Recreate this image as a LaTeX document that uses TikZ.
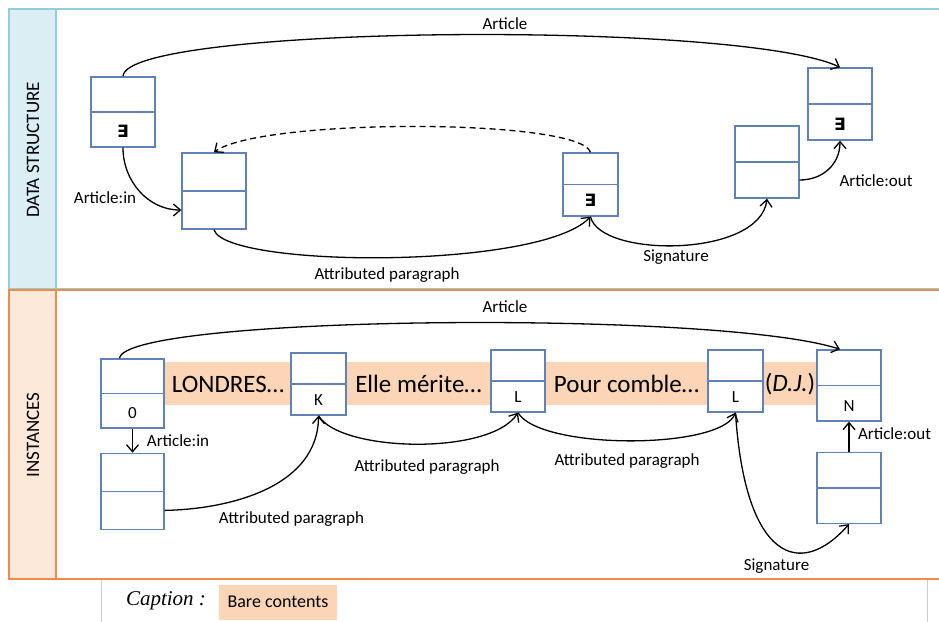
\documentclass[tikz,border=0pt]{standalone}
\usepackage{fontspec}
\setmainfont{Carlito}
\newfontfamily\capfont{Liberation Serif}
\newfontfamily\exfont{DejaVu Sans}
\newcommand*{\thereis}{{\exfont\bfseries ∃}}
\usetikzlibrary{arrows.meta}
\usetikzlibrary{positioning}
\definecolor{cellblue}{RGB}{96,130,184}
\definecolor{lanesky}{RGB}{146,205,221}
\definecolor{skyhead}{RGB}{219,238,244}
\definecolor{laneorange}{RGB}{240,140,70}
\definecolor{orangehead}{RGB}{253,233,217}
\definecolor{bare}{RGB}{251,213,181}
\definecolor{capgrey}{RGB}{205,205,205}
\tikzset{
    cell/.style = {draw=cellblue,line width=1.4pt,fill=white,inner sep=0,
        minimum width=64pt,minimum height=72pt,
        path picture={\draw[cellblue,line width=1.4pt] (path picture bounding box.west) -- (path picture bounding box.east);}},
    narrowcell/.style = {cell,minimum width=55pt,minimum height=62pt},
    low/.style = {label={[anchor=center,label distance=-16pt,font=\fontsize{17}{20}\selectfont]below:#1}},
    rel/.style = {line width=1.3pt,-{Straight Barb[length=7pt,width=12pt]}},
    ref/.style = {rel,dash pattern=on 6pt off 4pt},
    lbl/.style = {font=\fontsize{17}{20}\selectfont,inner sep=0},
    lanelbl/.style = {font=\fontsize{19}{22}\selectfont,inner sep=0,rotate=90},
    content/.style = {font=\fontsize{25}{30}\selectfont,inner sep=0}
}
\begin{document}
\begin{tikzpicture}[x=1pt,y=-1pt]
        \useasboundingbox (0,0) rectangle (939,621);
        % Lanes
        \draw[lanesky,line width=1.2pt] (9,9) rectangle (945,289);
        \draw[lanesky,line width=1.2pt,fill=skyhead] (9,9) rectangle (56,289);
        \draw[laneorange,line width=1.8pt] (9,290) rectangle (945,579);
        \draw[laneorange,line width=1.8pt,fill=orangehead] (9,290) rectangle (56,579);
        \node[lanelbl] (dslane) at (33,150) {DATA STRUCTURE};
        \node[lanelbl] (inlane) at (33,435) {INSTANCES};
        % Caption
        \draw[capgrey,line width=1pt] (101,580) -- (101,625);
        \draw[capgrey,line width=1pt] (927,580) -- (927,625);
        \node[inner sep=0,font=\capfont\itshape\fontsize{21}{24}\selectfont] (caption) at (166,601) {Caption :};
        \node[fill=bare,minimum width=118pt,minimum height=35pt,inner sep=0,
            font=\fontsize{18}{21}\selectfont] (barekey) at (278,602) {Bare contents};
        % Bare contents
        \fill[bare] (165,362) rectangle (817,405);
        % Data structure cells
        \node[cell,minimum height=70pt,low=\thereis] (ds1) at (123,112) {};
        \node[cell,minimum height=76pt] (ds2) at (214,191) {};
        \node[narrowcell,minimum height=63pt,low=\thereis] (ds3) at (590.5,184.5) {};
        \node[cell] (ds4) at (767,162) {};
        \node[cell,low=\thereis] (ds5) at (840,104) {};
        % Instance cells
        \node[cell,minimum width=63pt,minimum height=69pt,low=0] (in1) at (132.5,393.5) {};
        \node[cell,minimum width=63pt,minimum height=76pt,below=24pt of in1] (in2) {};
        \node[narrowcell,low=K] (in3) at (318.5,384) {};
        \node[narrowcell,minimum width=54pt,low=L] (in4) at (518,381) {};
        \node[narrowcell,low=L] (in5) at (735.5,381) {};
        \node[cell,minimum height=71pt,low=N] (in6) at (849,385.5) {};
        \node[cell,minimum height=71pt,below=30pt of in6] (in7) {};
        % Texts
        \node[content] (londres) at (228,384) {LONDRES…};
        \node[content] (merite) at (418.5,384) {Elle mérite…};
        \node[content] (comble) at (626.5,384) {Pour comble…};
        \node[content] (dj) at (790,384) {(\textit{D.J.})};
        % Data structure links
        \draw[rel] (ds1.north) .. controls (125,25) and (740,20) .. (ds5.north);
        \draw[ref] (ds3.north) .. controls (580,118) and (260,118) .. (ds2.north);
        \draw[rel] (ds1.south) .. controls (123,181) and (148,210) .. ([yshift=-19pt]ds2.west);
        \draw[rel] (ds2.south) .. controls (225,268) and (540,270) .. (ds3.south);
        \draw[rel] (ds3.south) .. controls (600,258) and (760,258) .. (ds4.south);
        \draw[rel] ([yshift=-18pt]ds4.east) .. controls (822,180) and (840,165) .. (ds5.south);
        % Instance links
        \draw[rel] ([xshift=-13pt]in1.north) .. controls (125,315) and (720,310) .. ([xshift=-9pt]in6.north);
        \foreach \src/\dest in {in1/in2,in7/in6}
            \draw[rel] (\src) -- (\dest);
        \draw[rel] ([yshift=-19pt]in2.east) .. controls (234,509) and (318,485) .. (in3.south);
        \draw[rel] (in3.south) .. controls (340,452) and (490,456) .. (in4.south);
        \draw[rel] (in4.south) .. controls (540,450) and (720,450) .. (in5.south);
        \draw[rel] (in5.south) .. controls (745,560) and (800,580) .. (in7.south);
        % Link labels
        \node[lbl] (dsart) at (505,24) {Article};
        \node[lbl] (dsin) at (105,198) {Article:in};
        \node[lbl] (dspar) at (387,275) {Attributed paragraph};
        \node[lbl] (dssig) at (676,257) {Signature};
        \node[lbl] (dsout) at (876,181) {Article:out};
        \node[lbl] (inart) at (505,307) {Article};
        \node[lbl] (inin) at (178,441) {Article:in};
        \node[lbl] (inpar1) at (291.5,519) {Attributed paragraph};
        \node[lbl] (inpar2) at (427,467) {Attributed paragraph};
        \node[lbl] (inpar3) at (627,461) {Attributed paragraph};
        \node[lbl] (insig) at (776.5,566) {Signature};
        \node[lbl] (inout) at (894.5,434) {Article:out};
    \end{tikzpicture}
\end{document}
